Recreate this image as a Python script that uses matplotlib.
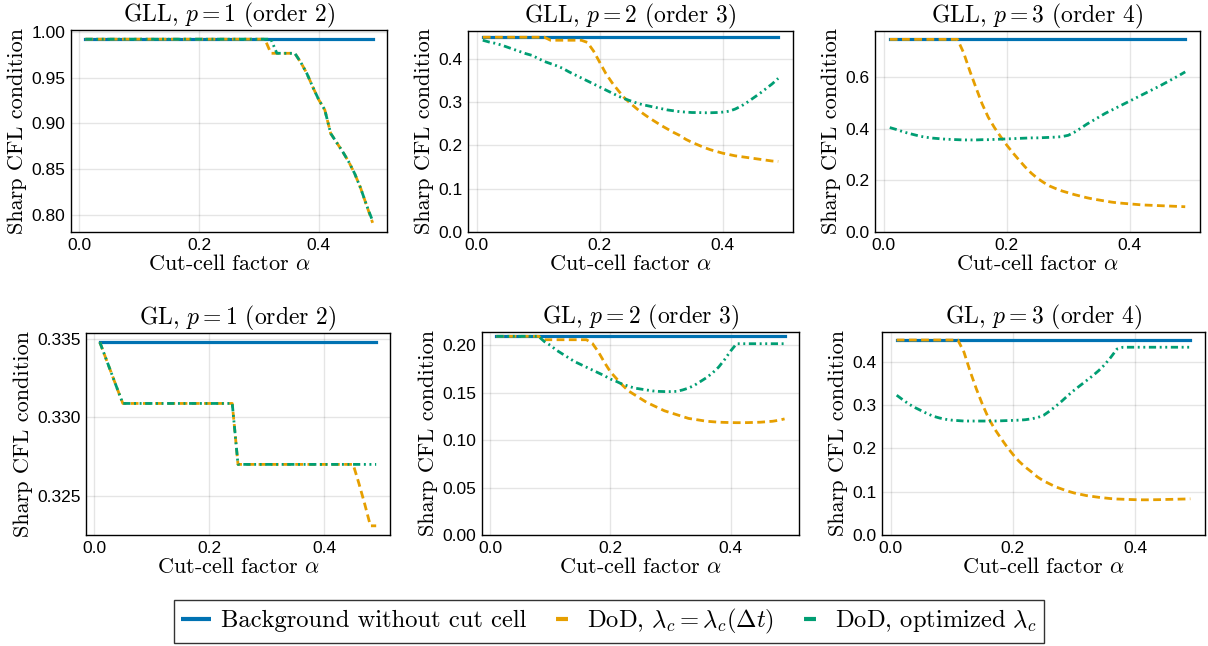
import numpy as np
import matplotlib
matplotlib.use("Agg")
import matplotlib.pyplot as plt
from matplotlib.lines import Line2D
from matplotlib.ticker import MultipleLocator, FormatStrFormatter

plt.rcParams['font.family'] = ['Liberation Sans', 'DejaVu Sans']
plt.rcParams['mathtext.fontset'] = 'cm'

# cut-cell factor grid used for all runs
alpha = np.linspace(0.01, 0.49, 49)

titles = [r"GLL, $p=1$ (order 2)", r"GLL, $p=2$ (order 3)", r"GLL, $p=3$ (order 4)",
          r"GL, $p=1$ (order 2)", r"GL, $p=2$ (order 3)", r"GL, $p=3$ (order 4)"]

# background CFL (no cut cell), one value per panel
background = [0.9925, 0.45, 0.747, 0.33479, 0.2096, 0.45]

# DoD with lambda_c = lambda_c(dt)
dod_dt_gll1 = [0.9925] * 31 + [0.977, 0.977, 0.977, 0.977, 0.977, 0.967, 0.955, 0.940, 0.926,
                               0.915, 0.889, 0.879, 0.869, 0.858, 0.845, 0.829, 0.810, 0.791]
dod_dt_gll2 = [0.45] * 11 + [0.443] * 6 + [
    0.438, 0.418, 0.392, 0.366, 0.345, 0.327, 0.310, 0.297, 0.285, 0.274, 0.264, 0.255,
    0.246, 0.238, 0.230, 0.223, 0.214, 0.207, 0.201, 0.195, 0.190, 0.186, 0.182, 0.179,
    0.176, 0.174, 0.172, 0.170, 0.168, 0.166, 0.164, 0.163]
dod_dt_gll3 = [0.747] * 12 + [
    0.695, 0.625, 0.560, 0.497, 0.445, 0.405, 0.370, 0.337, 0.307, 0.279, 0.252, 0.228,
    0.208, 0.192, 0.178, 0.168, 0.159, 0.152, 0.145, 0.139, 0.133, 0.128, 0.124, 0.120,
    0.116, 0.113, 0.111, 0.109, 0.107, 0.105, 0.104, 0.103, 0.102, 0.101, 0.100, 0.099, 0.098]
dod_dt_gl1 = [0.33479, 0.33381, 0.33283, 0.33185] + [0.33089] * 20 + [0.32701] * 21 + [
    0.3258, 0.3245, 0.3231, 0.3231]
dod_dt_gl2 = [0.2096] * 8 + [0.206] * 8 + [
    0.202, 0.193, 0.182, 0.172, 0.165, 0.158, 0.152, 0.148, 0.144, 0.140, 0.137, 0.134,
    0.131, 0.129, 0.127, 0.125, 0.123, 0.122, 0.121, 0.120, 0.1195, 0.119, 0.1188, 0.1186,
    0.1185, 0.1185, 0.1186, 0.1188, 0.119, 0.1195, 0.120, 0.121, 0.1225]
dod_dt_gl3 = [0.45] * 11 + [
    0.422, 0.378, 0.338, 0.302, 0.270, 0.245, 0.224, 0.204, 0.186, 0.170, 0.157, 0.146,
    0.134, 0.125, 0.118, 0.111, 0.106, 0.101, 0.097, 0.094, 0.091, 0.089, 0.087, 0.0855,
    0.084, 0.083, 0.0825, 0.082, 0.0815, 0.0812, 0.0812, 0.0814, 0.0816, 0.082, 0.0823,
    0.0827, 0.083, 0.0835]

# DoD with optimized lambda_c
dod_opt_gll1 = [0.9925] * 32 + [0.977, 0.977, 0.977, 0.977, 0.967, 0.955, 0.940, 0.926,
                               0.915, 0.889, 0.879, 0.869, 0.858, 0.845, 0.829, 0.810, 0.793]
dod_opt_gll2 = [
    0.443, 0.439, 0.436, 0.432, 0.427, 0.422, 0.417, 0.412, 0.408, 0.401, 0.394, 0.389,
    0.384, 0.378, 0.370, 0.363, 0.356, 0.349, 0.342, 0.335, 0.328, 0.321, 0.314, 0.308,
    0.303, 0.298, 0.294, 0.291, 0.288, 0.285, 0.282, 0.280, 0.278, 0.277, 0.276, 0.276,
    0.2755, 0.2755, 0.276, 0.277, 0.279, 0.284, 0.291, 0.300, 0.310, 0.320, 0.331, 0.342, 0.355]
dod_opt_gll3 = [
    0.405, 0.398, 0.390, 0.383, 0.377, 0.371, 0.367, 0.364, 0.362, 0.360, 0.359, 0.358,
    0.357, 0.357, 0.357, 0.358, 0.358, 0.359, 0.360, 0.361, 0.362, 0.363, 0.364, 0.365,
    0.365, 0.366, 0.367, 0.368, 0.370, 0.375, 0.387, 0.402, 0.418, 0.432, 0.446, 0.460,
    0.472, 0.484, 0.496, 0.508, 0.520, 0.532, 0.544, 0.556, 0.568, 0.581, 0.594, 0.607, 0.621]
dod_opt_gl1 = [0.33479, 0.33381, 0.33283, 0.33185] + [0.33089] * 20 + [0.32701] * 25
dod_opt_gl2 = [0.2096] * 8 + [
    0.204, 0.200, 0.195, 0.191, 0.187, 0.183, 0.180, 0.177, 0.174, 0.171, 0.168, 0.1645,
    0.162, 0.159, 0.157, 0.155, 0.154, 0.153, 0.152, 0.1515, 0.1513, 0.1513, 0.1515, 0.153,
    0.155, 0.158, 0.162, 0.166, 0.171, 0.177, 0.185, 0.194] + [0.2018] * 9
dod_opt_gl3 = [
    0.3226, 0.312, 0.302, 0.294, 0.287, 0.280, 0.274, 0.270, 0.267, 0.265, 0.264, 0.263,
    0.263, 0.263, 0.263, 0.263, 0.263, 0.2635, 0.264, 0.2645, 0.265, 0.266, 0.268, 0.271,
    0.276, 0.286, 0.297, 0.309, 0.322, 0.334, 0.345, 0.356, 0.367, 0.379, 0.393, 0.410,
    0.429] + [0.4333] * 12

dod_dt = [dod_dt_gll1, dod_dt_gll2, dod_dt_gll3, dod_dt_gl1, dod_dt_gl2, dod_dt_gl3]
dod_opt = [dod_opt_gll1, dod_opt_gll2, dod_opt_gll3, dod_opt_gl1, dod_opt_gl2, dod_opt_gl3]

ytick_step = [0.05, 0.1, 0.2, 0.005, 0.05, 0.1]
ytick_fmt = ["%.2f", "%.1f", "%.1f", "%.3f", "%.2f", "%.1f"]
zero_bottom = [False, True, True, False, True, True]

labels = ["Background without cut cell", r"DoD, $\lambda_c = \lambda_c(\Delta t)$",
          r"DoD, optimized $\lambda_c$"]
colors = ["#0072B2", "#E69F00", "#009E73"]

W, H = 1208, 646
# axes boxes in pixels: left, right, top, bottom
boxes = [(71, 387, 30, 232), (468, 793, 31, 232), (875, 1200, 31, 232),
         (86, 390, 333, 535), (482, 799, 332, 535), (882, 1205, 332, 535)]

serif = 'cmr10'
fig = plt.figure(figsize=(W / 100, H / 100), dpi=100)

for i in range(6):
    l, r, t, b = boxes[i]
    ax = fig.add_axes([l / W, 1 - b / H, (r - l) / W, (b - t) / H])
    ax.plot([alpha[0], alpha[-1]], [background[i], background[i]],
            color=colors[0], lw=2.3, zorder=3)
    ax.plot(alpha, dod_dt[i], color=colors[1], lw=2.0, dashes=(2.8, 1.6), zorder=4)
    ax.plot(alpha, dod_opt[i], color=colors[2], lw=2.0,
            dashes=(2.6, 1.3, 0.7, 1.3, 0.7, 1.3), zorder=5)

    ax.margins(x=0.05, y=0.05)
    if zero_bottom[i]:
        ax.set_ylim(bottom=0)

    ax.xaxis.set_major_locator(MultipleLocator(0.2))
    ax.xaxis.set_major_formatter(FormatStrFormatter("%.1f"))
    ax.yaxis.set_major_locator(MultipleLocator(ytick_step[i]))
    ax.yaxis.set_major_formatter(FormatStrFormatter(ytick_fmt[i]))
    ax.tick_params(length=0, labelsize=12.5, pad=4)
    ax.grid(True, color='black', alpha=0.1, lw=1)
    ax.set_axisbelow(True)
    for sp in ax.spines.values():
        sp.set_linewidth(1.0)
        sp.set_color('black')

    ax.set_title(titles[i], fontfamily=serif, fontsize=17, pad=3)
    ax.set_xlabel(r"Cut-cell factor $\alpha$", fontfamily=serif, fontsize=16, labelpad=1)
    ax.set_ylabel("Sharp CFL condition", fontfamily=serif, fontsize=16, labelpad=3)

# legend handles: solid bar, and a single centred dash for the dashed styles
lw_leg = 3.0
hl_pt = 21.6          # handle length in points (about 30 px)
dash_pt = 8.6         # visible dash, about 12 px
period = hl_pt + dash_pt
off = (period - (hl_pt - dash_pt) / 2) / lw_leg
handles = [Line2D([], [], color=colors[0], lw=lw_leg, solid_capstyle='butt')]
for c in colors[1:]:
    handles.append(Line2D([], [], color=c, lw=lw_leg, solid_capstyle='butt',
                          dash_capstyle='butt',
                          linestyle=(off, (dash_pt / lw_leg, hl_pt / lw_leg))))
leg = fig.legend(handles, labels, loc='center', bbox_to_anchor=(609 / W, 1 - 621.5 / H),
                 ncol=3, frameon=True, fancybox=False, edgecolor='black',
                 prop={'family': serif, 'size': 17.7}, handlelength=1.22,
                 columnspacing=0.85, handletextpad=0.4, borderpad=0.3,
                 borderaxespad=0)
leg.get_frame().set_linewidth(1.0)

fig.savefig("out.png", dpi=100)
